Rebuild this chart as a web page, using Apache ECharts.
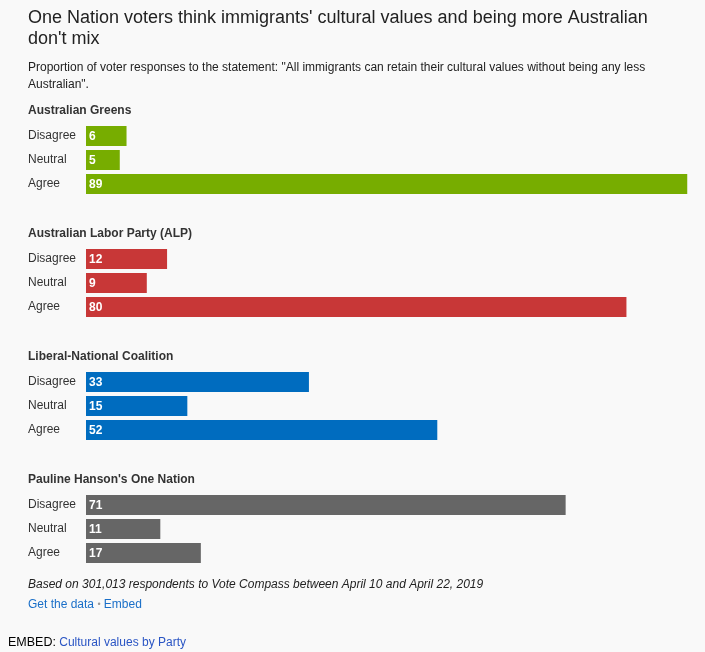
<!DOCTYPE html>
<html>
<head>
<meta charset="utf-8">
<script src="https://cdn.jsdelivr.net/npm/echarts@6/dist/echarts.min.js"></script>
<style>
html,body{margin:0;padding:0;background:#f9f9f9;}
#chart{width:705px;height:652px;}
</style>
</head>
<body>
<div id="chart"></div>
<script>
var categories = ['Disagree', 'Neutral', 'Agree'];
var parties = ['Australian Greens', 'Australian Labor Party (ALP)', 'Liberal-National Coalition', "Pauline Hanson's One Nation"];
var greens = [6, 5, 89];
var alp = [12, 9, 80];
var coalition = [33, 15, 52];
var oneNation = [71, 11, 17];
var partyColors = ['#77ad00', '#c83737', '#006cbf', '#666666'];

var values = [greens, alp, coalition, oneNation];
var FONT = '"Liberation Sans", Arial, Helvetica, sans-serif';
var tops = [124, 247, 370, 493];

var chart = echarts.init(document.getElementById('chart'));
var grids = [], xAxes = [], yAxes = [], series = [], graphics = [];

graphics.push({type:'text', left:28, top:8, style:{text:"One Nation voters think immigrants' cultural values and being more Australian\ndon't mix", font:'18px ' + FONT, fill:'#222', lineHeight:21}});
graphics.push({type:'text', left:28, top:59, style:{text:'Proportion of voter responses to the statement: "All immigrants can retain their cultural values without being any less\nAustralian".', font:'12px ' + FONT, fill:'#222', lineHeight:17}});

for (var i = 0; i < 4; i++) {
  grids.push({left:86, width:608, top:tops[i], height:72, containLabel:false});
  xAxes.push({gridIndex:i, type:'value', min:0, max:90, show:false});
  yAxes.push({gridIndex:i, type:'category', data:categories, inverse:true,
    axisLine:{show:false}, axisTick:{show:false}, splitLine:{show:false},
    axisLabel:{align:'left', margin:58, color:'#333', fontSize:12, fontFamily:FONT, padding:[2,0,0,0]}});
  series.push({type:'bar', xAxisIndex:i, yAxisIndex:i, data:values[i], barWidth:20,
    itemStyle:{color:partyColors[i]}, silent:true,
    label:{show:true, position:'insideLeft', distance:3, offset:[0,1], color:'#fff', fontWeight:'bold', fontSize:12, fontFamily:FONT}});
  graphics.push({type:'text', left:28, top:tops[i] - 19, style:{text:parties[i], font:'bold 12px ' + FONT, fill:'#333'}});
}

graphics.push({type:'text', left:28, top:579, style:{text:'Based on 301,013 respondents to Vote Compass between April 10 and April 22, 2019', font:'italic 12px ' + FONT, fill:'#222'}});
graphics.push({type:'text', left:28, top:599, style:{
  text:'{a|Get the data} {b|\u2022} {a|Embed}',
  rich:{a:{fontSize:12, fontFamily:FONT, fill:'#1a6fc8', color:'#1a6fc8'},
        b:{fontSize:9, fontFamily:FONT, fill:'#999', color:'#999'}}}});
graphics.push({type:'text', left:8, top:636, style:{
  text:'{k|EMBED:} {l|Cultural values by Party}',
  rich:{k:{fontSize:12.5, fontFamily:FONT, fill:'#000', color:'#000'},
        l:{fontSize:12, fontFamily:FONT, fill:'#2a55c4', color:'#2a55c4'}}}});

chart.setOption({
  backgroundColor:'#f9f9f9',
  animation:false,
  grid:grids, xAxis:xAxes, yAxis:yAxes, series:series, graphic:graphics
});
</script>
</body>
</html>
